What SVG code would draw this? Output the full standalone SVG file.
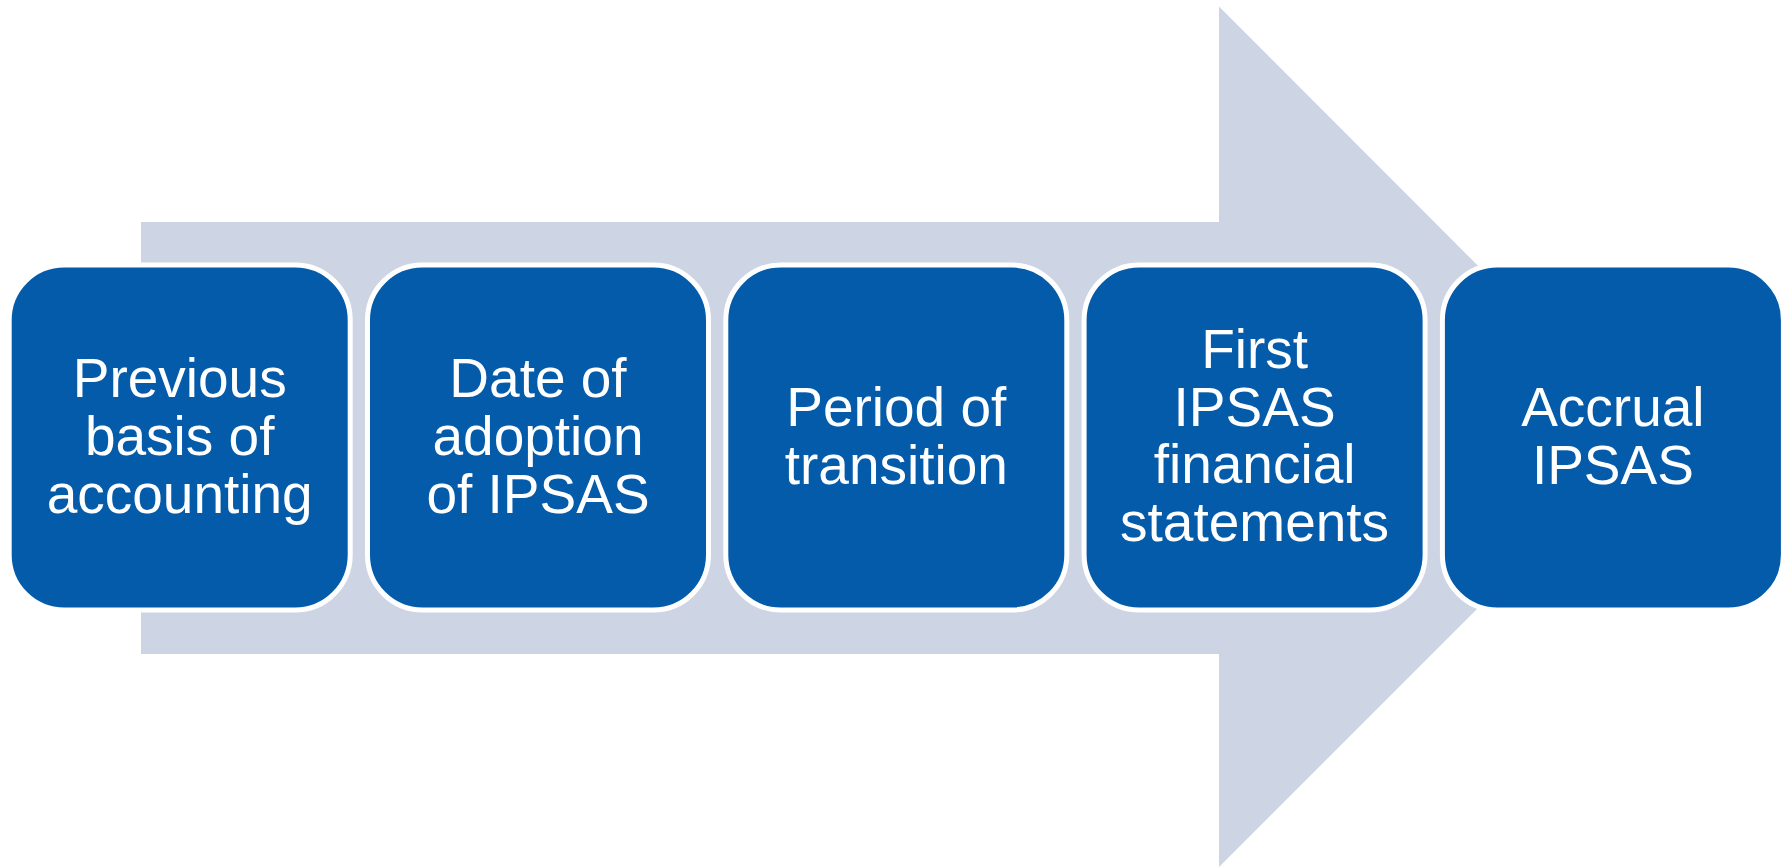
<svg xmlns="http://www.w3.org/2000/svg" width="1789" height="868" viewBox="0 0 1789 868">
  <style>
    .step { fill: #035BAA; stroke: #FFFFFF; stroke-width: 5; }
    .label { font-family: "Liberation Sans", Arial, sans-serif; font-size: 55px; fill: #FFFFFF; text-anchor: middle; }
  </style>
  <rect width="1789" height="868" fill="#FFFFFF"/>
  <!-- background process arrow -->
  <g id="connectors">
    <polygon id="process-arrow" points="141,222 1219,222 1219,6.5 1649,437 1219,867 1219,654 141,654" fill="#CDD4E3"/>
  </g>
  <g id="step1">
    <rect class="step" x="9.2" y="265" width="341" height="345" rx="55"/>
    <text class="label"><tspan x="179.7" y="397.3">Previous</tspan><tspan x="179.7" y="455">basis of</tspan><tspan x="179.7" y="512.7">accounting</tspan></text>
  </g>
  <g id="step2">
    <rect class="step" x="367.5" y="265" width="341" height="345" rx="55"/>
    <text class="label"><tspan x="538" y="397.3">Date of</tspan><tspan x="538" y="455">adoption</tspan><tspan x="538" y="512.7">of IPSAS</tspan></text>
  </g>
  <g id="step3">
    <rect class="step" x="725.8" y="265" width="341" height="345" rx="55"/>
    <text class="label"><tspan x="896.3" y="426">Period of</tspan><tspan x="896.3" y="484">transition</tspan></text>
  </g>
  <g id="step4">
    <rect class="step" x="1084.1" y="265" width="341" height="345" rx="55"/>
    <text class="label"><tspan x="1254.6" y="368">First</tspan><tspan x="1254.6" y="425.7">IPSAS</tspan><tspan x="1254.6" y="483.4">financial</tspan><tspan x="1254.6" y="541">statements</tspan></text>
  </g>
  <g id="step5">
    <rect class="step" x="1442.4" y="265" width="341" height="345" rx="55"/>
    <text class="label"><tspan x="1612.9" y="426">Accrual</tspan><tspan x="1612.9" y="484">IPSAS</tspan></text>
  </g>
</svg>
